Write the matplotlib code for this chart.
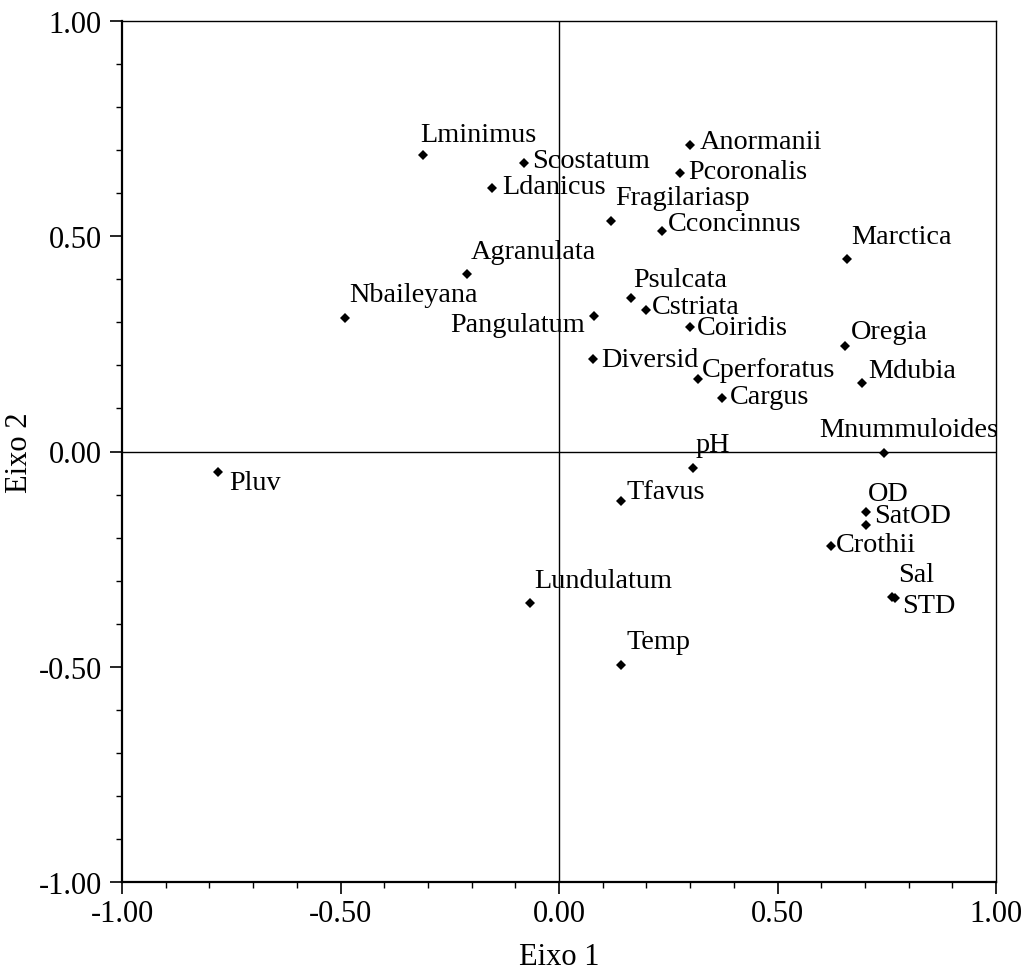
import numpy as np
import matplotlib.pyplot as plt
from matplotlib.ticker import MultipleLocator, FormatStrFormatter

plt.rcParams['font.family'] = ['Liberation Serif', 'DejaVu Serif']

# data
names = ['Lminimus', 'Scostatum', 'Ldanicus', 'Agranulata', 'Nbaileyana', 'Pangulatum',
         'Anormanii', 'Pcoronalis', 'Fragilariasp', 'Cconcinnus', 'Marctica', 'Psulcata',
         'Cstriata', 'Coiridis', 'Oregia', 'Diversid', 'Cperforatus', 'Cargus', 'Mdubia',
         'Mnummuloides', 'pH', 'Tfavus', 'OD', 'SatOD', 'Crothii', 'Sal', 'STD',
         'Pluv', 'Lundulatum', 'Temp']
eixo1 = [-0.312, -0.080, -0.153, -0.211, -0.490, 0.080,
         0.300, 0.278, 0.119, 0.236, 0.660, 0.164,
         0.198, 0.300, 0.654, 0.077, 0.317, 0.373, 0.693,
         0.744, 0.306, 0.143, 0.702, 0.702, 0.623, 0.761, 0.769,
         -0.781, -0.066, 0.142]
eixo2 = [0.689, 0.669, 0.613, 0.412, 0.310, 0.314,
         0.712, 0.648, 0.535, 0.512, 0.446, 0.356,
         0.328, 0.289, 0.246, 0.215, 0.168, 0.125, 0.160,
         -0.004, -0.039, -0.115, -0.141, -0.171, -0.219, -0.339, -0.341,
         -0.048, -0.352, -0.495]

# label offsets (pixels, from marker to text baseline start)
offs = {'Lminimus': (-2, 14), 'Scostatum': (8, -4), 'Ldanicus': (10, -5),
        'Agranulata': (4, 16), 'Nbaileyana': (4, 17), 'Pangulatum': (-9, -15),
        'Anormanii': (10, -3), 'Pcoronalis': (8, -5), 'Fragilariasp': (4, 17),
        'Cconcinnus': (6, 1), 'Marctica': (4, 16), 'Psulcata': (3, 12),
        'Cstriata': (6, -3), 'Coiridis': (7, -7), 'Oregia': (6, 8),
        'Diversid': (9, -7), 'Cperforatus': (4, 3), 'Cargus': (8, -5),
        'Mdubia': (6, 6), 'Mnummuloides': (-65, 17), 'pH': (3, 17),
        'Tfavus': (5, 3), 'OD': (2, 12), 'SatOD': (8, 3), 'Crothii': (5, -5),
        'Sal': (7, 16), 'STD': (7, -14), 'Pluv': (12, -17),
        'Lundulatum': (4, 16), 'Temp': (5, 17)}

fig = plt.figure(figsize=(10.29, 9.79), dpi=100)
ax = fig.add_axes([122/1029, 1-883/979, 874/1029, 861/979])

ax.axvline(0, color='black', lw=1.0)
ax.axhline(0, color='black', lw=1.0)
ax.plot(eixo1, eixo2, 'D', color='black', ms=5.6, mew=0)

px = 72/100
for n, x, y in zip(names, eixo1, eixo2):
    dx, dy = offs[n]
    ha = 'left'
    if n == 'Pangulatum':
        ha = 'right'
    ax.annotate(n, (x, y), xytext=(dx*px, dy*px), textcoords='offset points',
                ha=ha, va='baseline', fontsize=20.3)

ax.set_xlim(-1, 1)
ax.set_ylim(-1, 1)
ax.xaxis.set_major_locator(MultipleLocator(0.5))
ax.yaxis.set_major_locator(MultipleLocator(0.5))
ax.xaxis.set_minor_locator(MultipleLocator(0.1))
ax.yaxis.set_minor_locator(MultipleLocator(0.1))
ax.xaxis.set_major_formatter(FormatStrFormatter('%.2f'))
ax.yaxis.set_major_formatter(FormatStrFormatter('%.2f'))
ax.tick_params(which='major', direction='out', length=8.6, width=1.2, labelsize=22)
ax.tick_params(which='minor', direction='out', length=4.3, width=1.0)
ax.tick_params(axis='x', which='major', pad=4)
ax.tick_params(axis='y', which='major', pad=6)
for s in ['left', 'bottom']:
    ax.spines[s].set_linewidth(1.6)
for s in ['top', 'right']:
    ax.spines[s].set_linewidth(1.0)

ax.set_xlabel('Eixo 1', fontsize=22, labelpad=10)
ax.set_ylabel('Eixo 2', fontsize=22, labelpad=3)

fig.savefig('out.png', dpi=100)
